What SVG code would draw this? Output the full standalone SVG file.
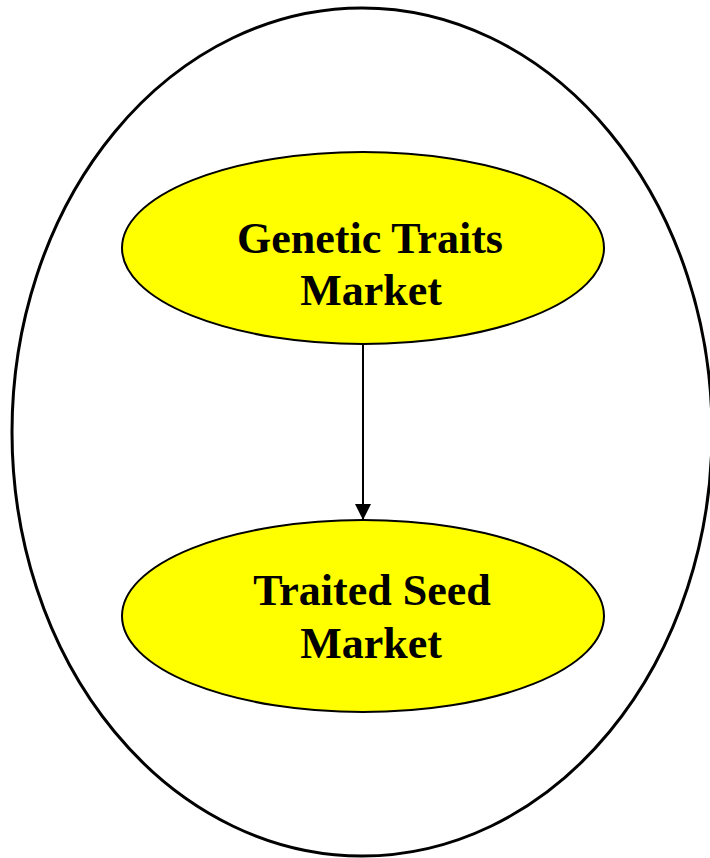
<svg xmlns="http://www.w3.org/2000/svg" width="710" height="858" viewBox="0 0 710 858">
<style>
.outer{fill:#fff;stroke:#000;stroke-width:3}
.node{fill:#ffff00;stroke:#000;stroke-width:2}
.lbl{font-family:"Liberation Serif",serif;font-weight:bold;font-size:44px;fill:#000;text-anchor:middle}
.conn{stroke:#000;stroke-width:2;fill:none}
</style>
<defs>
<marker id="arr" markerWidth="16" markerHeight="16" refX="16" refY="8" orient="auto" markerUnits="userSpaceOnUse">
<path d="M0,0 L16,8 L0,16 Z" fill="#000"/>
</marker>
</defs>
<rect width="710" height="858" fill="#fff"/>
<g id="boundary"><ellipse class="outer" cx="362" cy="432" rx="350" ry="424"/></g>
<g id="connectors">
<line class="conn" x1="363" y1="345" x2="363" y2="520" marker-end="url(#arr)"/>
</g>
<g id="genetic-traits-market">
<ellipse class="node" cx="363" cy="248" rx="241" ry="96"/>
<text class="lbl" x="370" y="253">Genetic Traits</text>
<text class="lbl" x="371" y="305">Market</text>
</g>
<g id="traited-seed-market">
<ellipse class="node" cx="363" cy="616" rx="241" ry="96"/>
<text class="lbl" x="372" y="605">Traited Seed</text>
<text class="lbl" x="371" y="658">Market</text>
</g>
</svg>
